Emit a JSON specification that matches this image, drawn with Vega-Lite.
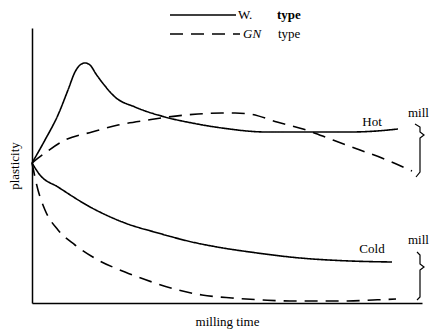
{
  "$schema": "https://vega.github.io/schema/vega-lite/v6.json",
  "width": 390,
  "height": 275,
  "autosize": {"type": "none"},
  "padding": {"left": 32, "top": 28, "right": 9, "bottom": 31},
  "background": "white",
  "config": {"view": {"stroke": null}, "font": "Liberation Serif"},
  "datasets": {
    "curves": [
      {"series": "W hot", "type": "W", "x": 0, "y": 140},
      {"series": "W hot", "type": "W", "x": 13, "y": 163},
      {"series": "W hot", "type": "W", "x": 26, "y": 188},
      {"series": "W hot", "type": "W", "x": 36, "y": 213},
      {"series": "W hot", "type": "W", "x": 43, "y": 231},
      {"series": "W hot", "type": "W", "x": 48, "y": 238},
      {"series": "W hot", "type": "W", "x": 53, "y": 240},
      {"series": "W hot", "type": "W", "x": 58, "y": 238},
      {"series": "W hot", "type": "W", "x": 64, "y": 229},
      {"series": "W hot", "type": "W", "x": 73, "y": 217},
      {"series": "W hot", "type": "W", "x": 83, "y": 206},
      {"series": "W hot", "type": "W", "x": 103, "y": 196},
      {"series": "W hot", "type": "W", "x": 133, "y": 186},
      {"series": "W hot", "type": "W", "x": 160, "y": 180},
      {"series": "W hot", "type": "W", "x": 190, "y": 175},
      {"series": "W hot", "type": "W", "x": 235, "y": 171},
      {"series": "W hot", "type": "W", "x": 278, "y": 171},
      {"series": "W hot", "type": "W", "x": 318, "y": 171},
      {"series": "W hot", "type": "W", "x": 345, "y": 172},
      {"series": "W hot", "type": "W", "x": 366, "y": 174},
      {"series": "GN hot", "type": "GN", "x": 0, "y": 140},
      {"series": "GN hot", "type": "GN", "x": 13, "y": 150},
      {"series": "GN hot", "type": "GN", "x": 33, "y": 163},
      {"series": "GN hot", "type": "GN", "x": 60, "y": 171},
      {"series": "GN hot", "type": "GN", "x": 86, "y": 178},
      {"series": "GN hot", "type": "GN", "x": 116, "y": 183},
      {"series": "GN hot", "type": "GN", "x": 136, "y": 186},
      {"series": "GN hot", "type": "GN", "x": 166, "y": 189},
      {"series": "GN hot", "type": "GN", "x": 190, "y": 190},
      {"series": "GN hot", "type": "GN", "x": 203, "y": 190},
      {"series": "GN hot", "type": "GN", "x": 218, "y": 189},
      {"series": "GN hot", "type": "GN", "x": 245, "y": 181},
      {"series": "GN hot", "type": "GN", "x": 271, "y": 174},
      {"series": "GN hot", "type": "GN", "x": 301, "y": 163},
      {"series": "GN hot", "type": "GN", "x": 328, "y": 153},
      {"series": "GN hot", "type": "GN", "x": 355, "y": 143},
      {"series": "GN hot", "type": "GN", "x": 380, "y": 132},
      {"series": "W cold", "type": "W", "x": 0, "y": 140},
      {"series": "W cold", "type": "W", "x": 8, "y": 128},
      {"series": "W cold", "type": "W", "x": 26, "y": 116},
      {"series": "W cold", "type": "W", "x": 60, "y": 95},
      {"series": "W cold", "type": "W", "x": 93, "y": 80},
      {"series": "W cold", "type": "W", "x": 126, "y": 70},
      {"series": "W cold", "type": "W", "x": 160, "y": 61},
      {"series": "W cold", "type": "W", "x": 191, "y": 55},
      {"series": "W cold", "type": "W", "x": 218, "y": 51},
      {"series": "W cold", "type": "W", "x": 268, "y": 45},
      {"series": "W cold", "type": "W", "x": 318, "y": 42},
      {"series": "W cold", "type": "W", "x": 360, "y": 41},
      {"series": "GN cold", "type": "GN", "x": 0, "y": 140},
      {"series": "GN cold", "type": "GN", "x": 6, "y": 113},
      {"series": "GN cold", "type": "GN", "x": 13, "y": 93},
      {"series": "GN cold", "type": "GN", "x": 26, "y": 73},
      {"series": "GN cold", "type": "GN", "x": 43, "y": 58},
      {"series": "GN cold", "type": "GN", "x": 66, "y": 43},
      {"series": "GN cold", "type": "GN", "x": 93, "y": 31},
      {"series": "GN cold", "type": "GN", "x": 120, "y": 21},
      {"series": "GN cold", "type": "GN", "x": 146, "y": 13},
      {"series": "GN cold", "type": "GN", "x": 170, "y": 8},
      {"series": "GN cold", "type": "GN", "x": 200, "y": 5},
      {"series": "GN cold", "type": "GN", "x": 231, "y": 3},
      {"series": "GN cold", "type": "GN", "x": 258, "y": 2},
      {"series": "GN cold", "type": "GN", "x": 285, "y": 2},
      {"series": "GN cold", "type": "GN", "x": 316, "y": 2},
      {"series": "GN cold", "type": "GN", "x": 341, "y": 3},
      {"series": "GN cold", "type": "GN", "x": 364, "y": 4},
      {"series": "legend W", "type": "W", "x": 138, "y": 288},
      {"series": "legend W", "type": "W", "x": 204, "y": 288},
      {"series": "legend GN", "type": "GN", "x": 138, "y": 269},
      {"series": "legend GN", "type": "GN", "x": 208, "y": 269}
    ],
    "braces": [
      {"brace": "hot", "x": 383, "y": 179},
      {"brace": "hot", "x": 388, "y": 176},
      {"brace": "hot", "x": 388, "y": 171},
      {"brace": "hot", "x": 392, "y": 168},
      {"brace": "hot", "x": 388, "y": 165},
      {"brace": "hot", "x": 388, "y": 131},
      {"brace": "hot", "x": 384, "y": 126},
      {"brace": "cold", "x": 385, "y": 51},
      {"brace": "cold", "x": 388, "y": 48},
      {"brace": "cold", "x": 388, "y": 39},
      {"brace": "cold", "x": 392, "y": 36},
      {"brace": "cold", "x": 388, "y": 33},
      {"brace": "cold", "x": 388, "y": 6},
      {"brace": "cold", "x": 385, "y": 3}
    ],
    "labels": [
      {"label": "Hot", "x": 340, "y": 181},
      {"label": "Cold", "x": 340, "y": 54}
    ],
    "mills": [
      {"label": "mill", "x": 376, "y": 190},
      {"label": "mill", "x": 376, "y": 63}
    ],
    "legendNames": [
      {"label": "W.", "x": 206, "y": 288}
    ],
    "legendItalic": [
      {"label": "GN", "x": 211, "y": 269}
    ],
    "legendBold": [
      {"label": "type", "x": 245, "y": 288}
    ],
    "legendPlain": [
      {"label": "type", "x": 246, "y": 269}
    ]
  },
  "layer": [
    {
      "data": {"name": "curves"},
      "mark": {"type": "line", "color": "black", "strokeWidth": 1.6, "interpolate": "monotone"},
      "encoding": {
        "x": {"field": "x", "type": "quantitative", "scale": {"domain": [0, 390], "nice": false, "zero": false},
          "axis": {"title": "milling time", "ticks": false, "labels": false, "grid": false, "domainColor": "black", "domainWidth": 1.5, "titleFont": "Liberation Serif", "titleFontSize": 13, "titleFontWeight": "normal", "titleColor": "black", "titlePadding": 12}},
        "y": {"field": "y", "type": "quantitative", "scale": {"domain": [0, 275], "nice": false, "zero": false},
          "axis": {"title": "plasticity", "ticks": false, "labels": false, "grid": false, "domainColor": "black", "domainWidth": 1.5, "titleFont": "Liberation Serif", "titleFontSize": 13, "titleFontWeight": "normal", "titleColor": "black", "titlePadding": 11}},
        "detail": {"field": "series"},
        "strokeDash": {"field": "type", "type": "nominal", "scale": {"domain": ["W", "GN"], "range": [[1, 0], [13, 8]]}, "legend": null}
      }
    },
    {
      "data": {"name": "braces"},
      "mark": {"type": "line", "color": "black", "strokeWidth": 1.2},
      "encoding": {
        "x": {"field": "x", "type": "quantitative"},
        "y": {"field": "y", "type": "quantitative"},
        "detail": {"field": "brace"},
        "order": {"value": null}
      }
    },
    {
      "data": {"name": "labels"},
      "mark": {"type": "text", "font": "Liberation Serif", "fontSize": 13, "color": "black", "align": "center", "baseline": "middle"},
      "encoding": {
        "x": {"field": "x", "type": "quantitative"},
        "y": {"field": "y", "type": "quantitative"},
        "text": {"field": "label"}
      }
    },
    {
      "data": {"name": "mills"},
      "mark": {"type": "text", "font": "Liberation Serif", "fontSize": 13, "color": "black", "align": "left", "baseline": "middle"},
      "encoding": {
        "x": {"field": "x", "type": "quantitative"},
        "y": {"field": "y", "type": "quantitative"},
        "text": {"field": "label"}
      }
    },
    {
      "data": {"name": "legendNames"},
      "mark": {"type": "text", "font": "Liberation Serif", "fontSize": 13, "color": "black", "align": "left", "baseline": "middle"},
      "encoding": {
        "x": {"field": "x", "type": "quantitative"},
        "y": {"field": "y", "type": "quantitative"},
        "text": {"field": "label"}
      }
    },
    {
      "data": {"name": "legendItalic"},
      "mark": {"type": "text", "font": "Liberation Serif", "fontSize": 13, "fontStyle": "italic", "color": "black", "align": "left", "baseline": "middle"},
      "encoding": {
        "x": {"field": "x", "type": "quantitative"},
        "y": {"field": "y", "type": "quantitative"},
        "text": {"field": "label"}
      }
    },
    {
      "data": {"name": "legendBold"},
      "mark": {"type": "text", "font": "Liberation Serif", "fontSize": 13, "fontWeight": "bold", "color": "black", "align": "left", "baseline": "middle"},
      "encoding": {
        "x": {"field": "x", "type": "quantitative"},
        "y": {"field": "y", "type": "quantitative"},
        "text": {"field": "label"}
      }
    },
    {
      "data": {"name": "legendPlain"},
      "mark": {"type": "text", "font": "Liberation Serif", "fontSize": 13, "color": "black", "align": "left", "baseline": "middle"},
      "encoding": {
        "x": {"field": "x", "type": "quantitative"},
        "y": {"field": "y", "type": "quantitative"},
        "text": {"field": "label"}
      }
    }
  ]
}
